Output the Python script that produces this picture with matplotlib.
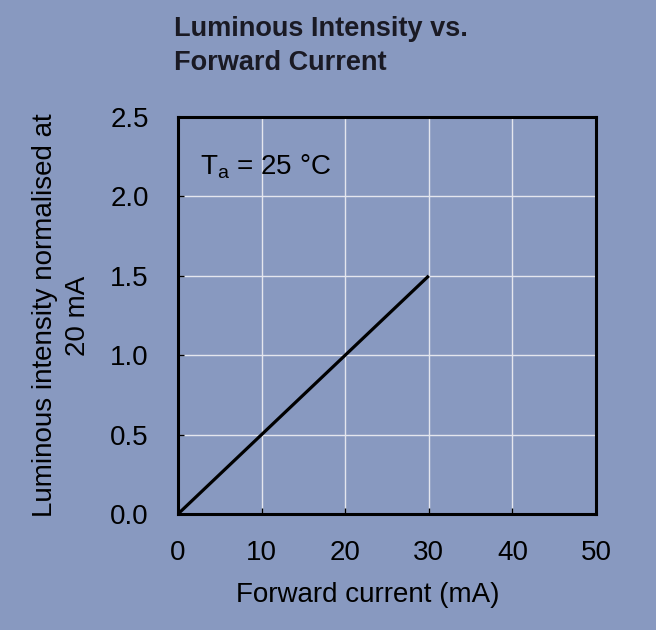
import matplotlib.pyplot as plt

# data
current = [0, 30]
intensity = [0, 1.5]
x_ticks = [0, 10, 20, 30, 40, 50]
y_ticks = [0.0, 0.5, 1.0, 1.5, 2.0, 2.5]

bg = '#8899c0'
plt.rcParams['font.family'] = ['Liberation Sans', 'DejaVu Sans']

fig = plt.figure(figsize=(6.56, 6.30), dpi=100, facecolor=bg)
ax = fig.add_axes([0.2713, 0.1841, 0.6372, 0.6302], facecolor=bg)

ax.plot(current, intensity, color='black', linewidth=2.3, solid_capstyle='butt')

ax.set_xlim(0, 50)
ax.set_ylim(0, 2.5)
ax.set_xticks(x_ticks)
ax.set_yticks(y_ticks)
ax.set_yticklabels(['%.1f' % v for v in y_ticks])
ax.grid(True, color='#e4e6ee', linewidth=1.0)
ax.set_axisbelow(True)

for s in ax.spines.values():
    s.set_linewidth(2.2)
    s.set_color('black')

ax.tick_params(axis='both', direction='in', length=4, width=1, labelsize=20, colors='black')
ax.tick_params(axis='x', pad=19)
ax.tick_params(axis='y', pad=21)

ax.set_xlabel('Forward current (mA)', fontsize=20, labelpad=11)
ax.xaxis.label.set_x(0.455)
ax.set_ylabel('Luminous intensity normalised at\n20 mA', fontsize=20, labelpad=14,
              linespacing=1.35)

ax.text(2.6, 2.19, r'T$_\mathregular{a}$ = 25 °C', fontsize=20, va='center', ha='left')

fig.text(0.266, 0.975, 'Luminous Intensity vs.\nForward Current', fontsize=19.5,
         fontweight='bold', color='#1a1a24', va='top', ha='left', linespacing=1.4)

plt.savefig('out.png', dpi=100, facecolor=bg)
